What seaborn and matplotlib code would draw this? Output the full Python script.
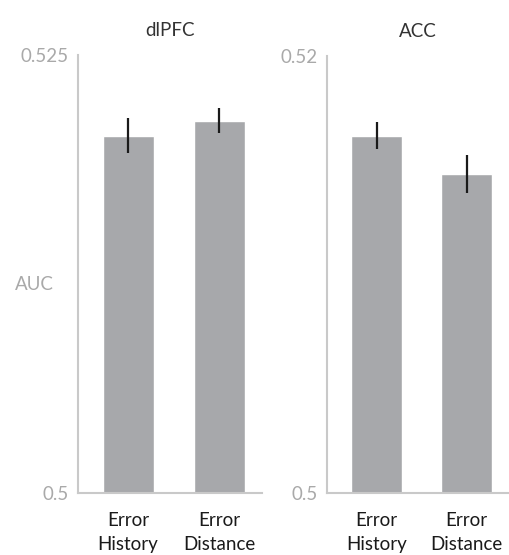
import matplotlib
matplotlib.use("Agg")
import matplotlib.pyplot as plt
import seaborn as sns
import pandas as pd

categories = ["Error\nHistory", "Error\nDistance"]
panels = ["dlPFC", "ACC"]
dlpfc_auc = [0.5204, 0.52125]
dlpfc_err = [0.0010, 0.00073]
acc_auc = [0.51635, 0.5146]
acc_err = [0.00061, 0.00088]
y_limits = [(0.5, 0.525), (0.5, 0.52)]
y_ticklabels = [["0.5", "0.525"], ["0.5", "0.52"]]

sns.set_theme(style="white")
plt.rcParams['font.family'] = ['Lato', 'DejaVu Sans']

fig = plt.figure(figsize=(5.09, 5.55), dpi=100)
ax1 = fig.add_axes([78/509, 62/555, 184/509, 438/555])
ax2 = fig.add_axes([327/509, 62/555, 182/509, 437/555])

bar_color = "#a7a8ab"
spine_color = "#c9c9c9"
tick_color = "#a9a9a9"
fs = 13.5

for ax, name, vals, errs, ylim, ylabs in zip(
        [ax1, ax2], panels, [dlpfc_auc, acc_auc], [dlpfc_err, acc_err],
        y_limits, y_ticklabels):
    df = pd.DataFrame({"cond": categories, "auc": vals})
    sns.barplot(data=df, x="cond", y="auc", color=bar_color, width=0.56,
                saturation=1, ax=ax, errorbar=None)
    ax.errorbar(x=range(len(vals)), y=vals, yerr=errs, fmt="none",
                ecolor="#1a1a1a", elinewidth=1.6, capsize=0)
    ax.set_ylim(*ylim)
    ax.set_xlim(-0.55, 1.47)
    ax.set_yticks(list(ylim))
    ax.set_yticklabels(ylabs, color=tick_color, fontsize=fs)
    ax.tick_params(axis="x", labelsize=fs, colors="#1a1a1a", length=0, pad=14)
    ax.tick_params(axis="y", length=0, pad=7)
    ax.set_xlabel("")
    ax.set_ylabel("")
    ax.set_title(name, fontsize=fs, color="#333333", pad=14)
    for s in ["top", "right"]:
        ax.spines[s].set_visible(False)
    for s in ["left", "bottom"]:
        ax.spines[s].set_color(spine_color)
        ax.spines[s].set_linewidth(1.5)
    for lbl in ax.get_xticklabels():
        lbl.set_linespacing(1.45)

fig.text(34/509, 1 - 285/555, "AUC", color=tick_color, fontsize=fs,
         ha="center", va="center")

fig.savefig("out.png", dpi=100)
